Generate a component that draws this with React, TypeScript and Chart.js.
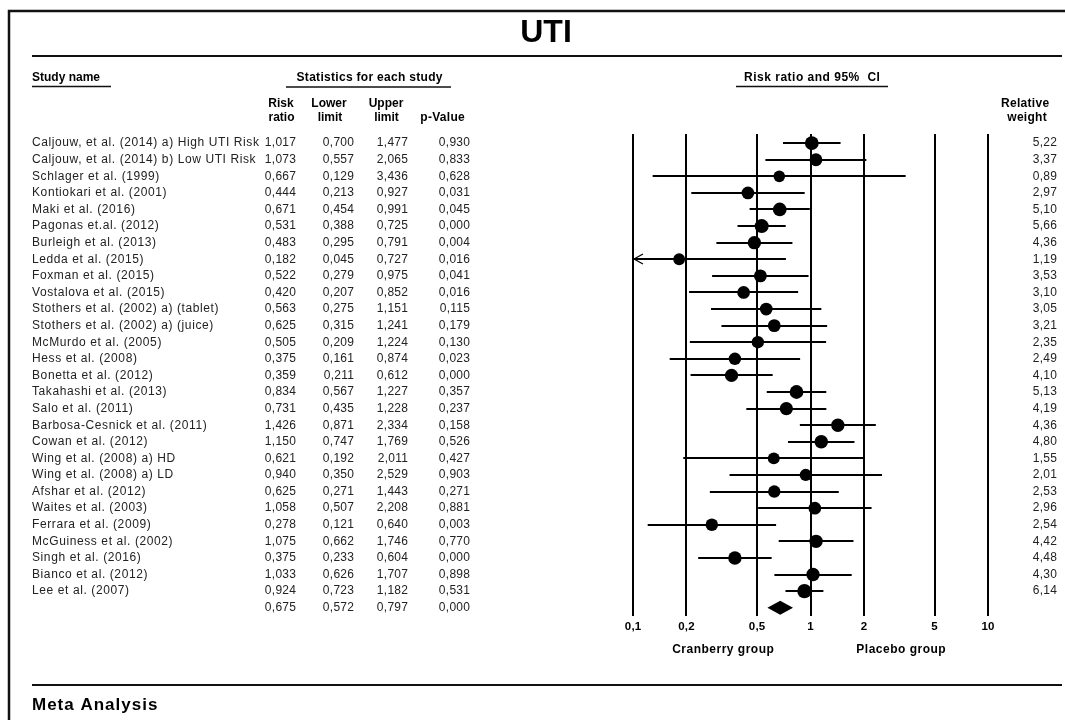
import React, { useEffect, useRef } from "react";
import { Chart, registerables } from "chart.js";

Chart.register(...registerables);

const studyNames = [
  "Caljouw, et al. (2014) a) High UTI Risk",
  "Caljouw, et al. (2014) b) Low UTI Risk",
  "Schlager et al. (1999)",
  "Kontiokari et al. (2001)",
  "Maki et al. (2016)",
  "Pagonas et.al. (2012)",
  "Burleigh et al. (2013)",
  "Ledda et al. (2015)",
  "Foxman et al. (2015)",
  "Vostalova et al. (2015)",
  "Stothers et al. (2002) a) (tablet)",
  "Stothers et al. (2002) a) (juice)",
  "McMurdo et al. (2005)",
  "Hess et al. (2008)",
  "Bonetta et al. (2012)",
  "Takahashi et al. (2013)",
  "Salo et al. (2011)",
  "Barbosa-Cesnick et al. (2011)",
  "Cowan et al. (2012)",
  "Wing et al. (2008) a) HD",
  "Wing et al. (2008) a) LD",
  "Afshar et al. (2012)",
  "Waites et al. (2003)",
  "Ferrara et al. (2009)",
  "McGuiness et al. (2002)",
  "Singh et al. (2016)",
  "Bianco et al. (2012)",
  "Lee et al. (2007)",
];

const riskRatio = [
  1.017, 1.073, 0.667, 0.444, 0.671, 0.531, 0.483, 0.182, 0.522, 0.42, 0.563, 0.625, 0.505, 0.375,
  0.359, 0.834, 0.731, 1.426, 1.15, 0.621, 0.94, 0.625, 1.058, 0.278, 1.075, 0.375, 1.033, 0.924,
];
const lowerLimit = [
  0.7, 0.557, 0.129, 0.213, 0.454, 0.388, 0.295, 0.045, 0.279, 0.207, 0.275, 0.315, 0.209, 0.161,
  0.211, 0.567, 0.435, 0.871, 0.747, 0.192, 0.35, 0.271, 0.507, 0.121, 0.662, 0.233, 0.626, 0.723,
];
const upperLimit = [
  1.477, 2.065, 3.436, 0.927, 0.991, 0.725, 0.791, 0.727, 0.975, 0.852, 1.151, 1.241, 1.224, 0.874,
  0.612, 1.227, 1.228, 2.334, 1.769, 2.011, 2.529, 1.443, 2.208, 0.64, 1.746, 0.604, 1.707, 1.182,
];
const pValue = [
  0.93, 0.833, 0.628, 0.031, 0.045, 0.0, 0.004, 0.016, 0.041, 0.016, 0.115, 0.179, 0.13, 0.023,
  0.0, 0.357, 0.237, 0.158, 0.526, 0.427, 0.903, 0.271, 0.881, 0.003, 0.77, 0.0, 0.898, 0.531,
];
const relativeWeight = [
  5.22, 3.37, 0.89, 2.97, 5.1, 5.66, 4.36, 1.19, 3.53, 3.1, 3.05, 3.21, 2.35, 2.49,
  4.1, 5.13, 4.19, 4.36, 4.8, 1.55, 2.01, 2.53, 2.96, 2.54, 4.42, 4.48, 4.3, 6.14,
];

const summaryRatio = 0.675;
const summaryLower = 0.572;
const summaryUpper = 0.797;
const summaryP = 0.0;

const axisTicks = [0.1, 0.2, 0.5, 1, 2, 5, 10];
const axisTickLabels = ["0,1", "0,2", "0,5", "1", "2", "5", "10"];

const FONT = "'Liberation Sans', Arial, sans-serif";

const fmt = (v: number, d: number) => v.toFixed(d).replace(".", ",");

function txt(
  ctx: CanvasRenderingContext2D,
  s: string,
  x: number,
  y: number,
  font: string,
  align: CanvasTextAlign = "left",
  spacing = 0,
  color = "#111"
) {
  ctx.font = font;
  ctx.textAlign = align;
  ctx.textBaseline = "middle";
  ctx.fillStyle = color;
  (ctx as any).letterSpacing = spacing + "px";
  let xx = x;
  if (align === "right") xx = x + spacing;
  if (align === "center") xx = x + spacing / 2;
  ctx.fillText(s, xx, y);
  (ctx as any).letterSpacing = "0px";
}

function hline(ctx: CanvasRenderingContext2D, x1: number, x2: number, y: number, w: number) {
  ctx.lineWidth = w;
  ctx.beginPath();
  ctx.moveTo(x1, y);
  ctx.lineTo(x2, y);
  ctx.stroke();
}

const forestPlugin = {
  id: "forest",
  beforeDatasetsDraw(chart: any) {
    const ctx: CanvasRenderingContext2D = chart.ctx;
    const xs = chart.scales.x;
    const ys = chart.scales.y;
    ctx.save();
    ctx.strokeStyle = "#000";
    ctx.lineWidth = 2;
    const top = ys.getPixelForValue(ys.min);
    const bottom = ys.getPixelForValue(ys.max);
    axisTicks.forEach((v) => {
      const px = Math.round(xs.getPixelForValue(v));
      ctx.beginPath();
      ctx.moveTo(px, top);
      ctx.lineTo(px, bottom);
      ctx.stroke();
    });
    // confidence intervals
    studyNames.forEach((_, i) => {
      const py = Math.round(ys.getPixelForValue(i));
      const lo = Math.max(lowerLimit[i], xs.min);
      const hi = Math.min(upperLimit[i], xs.max);
      const x1 = xs.getPixelForValue(lo);
      const x2 = xs.getPixelForValue(hi);
      ctx.lineWidth = 2;
      ctx.beginPath();
      ctx.moveTo(x1, py);
      ctx.lineTo(x2, py);
      ctx.stroke();
      if (lowerLimit[i] < xs.min) {
        ctx.lineWidth = 1.2;
        ctx.beginPath();
        ctx.moveTo(x1 + 10, py - 5);
        ctx.lineTo(x1 + 1, py);
        ctx.lineTo(x1 + 10, py + 5);
        ctx.stroke();
      }
    });
    // summary diamond
    const sy = ys.getPixelForValue(studyNames.length);
    ctx.fillStyle = "#000";
    ctx.beginPath();
    ctx.moveTo(xs.getPixelForValue(summaryLower), sy);
    ctx.lineTo(xs.getPixelForValue(summaryRatio), sy - 7);
    ctx.lineTo(xs.getPixelForValue(summaryUpper), sy);
    ctx.lineTo(xs.getPixelForValue(summaryRatio), sy + 7);
    ctx.closePath();
    ctx.fill();
    ctx.restore();
  },
  afterDraw(chart: any) {
    const ctx: CanvasRenderingContext2D = chart.ctx;
    const xs = chart.scales.x;
    const ys = chart.scales.y;
    ctx.save();
    ctx.strokeStyle = "#111";
    // frame lines
    ctx.lineWidth = 2.5;
    ctx.beginPath();
    ctx.moveTo(9, 720);
    ctx.lineTo(9, 11);
    ctx.lineTo(1065, 11);
    ctx.stroke();
    hline(ctx, 32, 1062, 56, 2);
    hline(ctx, 32, 1062, 685, 2);

    // title
    txt(ctx, "UTI", 546, 33, `bold 32px ${FONT}`, "center", 0, "#000");

    // section headers
    const hb = `bold 12px ${FONT}`;
    txt(ctx, "Study name", 32, 78, hb, "left", 0, "#000");
    hline(ctx, 32, 111, 86.5, 1.5);
    txt(ctx, "Statistics for each study", 369.5, 78, hb, "center", 0.3, "#000");
    hline(ctx, 286, 451, 87, 1.5);
    txt(ctx, "Risk ratio and 95%  CI", 812, 78, hb, "center", 0.5, "#000");
    hline(ctx, 736, 888, 86.5, 1.5);

    // column headers
    txt(ctx, "Risk", 281, 104, hb, "center", 0, "#000");
    txt(ctx, "ratio", 281.5, 118, hb, "center", 0, "#000");
    txt(ctx, "Lower", 329, 104, hb, "center", 0, "#000");
    txt(ctx, "limit", 330, 118, hb, "center", 0, "#000");
    txt(ctx, "Upper", 386, 104, hb, "center", 0, "#000");
    txt(ctx, "limit", 386.5, 118, hb, "center", 0, "#000");
    txt(ctx, "p-Value", 442.5, 118, hb, "center", 0.3, "#000");
    txt(ctx, "Relative", 1025, 104, hb, "center", 0.3, "#000");
    txt(ctx, "weight", 1027, 118, hb, "center", 0.3, "#000");

    // rows
    const rf = `12px ${FONT}`;
    const col = "#222";
    studyNames.forEach((name, i) => {
      const py = ys.getPixelForValue(i);
      txt(ctx, name, 32, py, rf, "left", 0.6, col);
      txt(ctx, fmt(riskRatio[i], 3), 296, py, rf, "right", 0.3, col);
      txt(ctx, fmt(lowerLimit[i], 3), 354, py, rf, "right", 0.3, col);
      txt(ctx, fmt(upperLimit[i], 3), 408, py, rf, "right", 0.3, col);
      txt(ctx, fmt(pValue[i], 3), 470, py, rf, "right", 0.3, col);
      txt(ctx, fmt(relativeWeight[i], 2), 1057, py, rf, "right", 0.3, col);
    });
    const sy = ys.getPixelForValue(studyNames.length);
    txt(ctx, fmt(summaryRatio, 3), 296, sy, rf, "right", 0.3, col);
    txt(ctx, fmt(summaryLower, 3), 354, sy, rf, "right", 0.3, col);
    txt(ctx, fmt(summaryUpper, 3), 408, sy, rf, "right", 0.3, col);
    txt(ctx, fmt(summaryP, 3), 470, sy, rf, "right", 0.3, col);

    // axis tick labels
    axisTicks.forEach((v, i) => {
      txt(ctx, axisTickLabels[i], xs.getPixelForValue(v), 627, `bold 11.5px ${FONT}`, "center", 0.2, "#000");
    });
    txt(ctx, "Cranberry group", 723, 650, hb, "center", 0.5, "#000");
    txt(ctx, "Placebo group", 901, 650, hb, "center", 0.5, "#000");

    // footer
    txt(ctx, "Meta Analysis", 32, 705, `bold 17px ${FONT}`, "left", 1, "#000");
    ctx.restore();
  },
};

export default function App() {
  const ref = useRef<HTMLCanvasElement>(null);
  useEffect(() => {
    if (!ref.current) return;
    const chart = new Chart(ref.current, {
      type: "scatter",
      data: {
        datasets: [
          {
            label: "Risk ratio",
            data: riskRatio.map((r, i) => ({ x: r, y: i })),
            pointRadius: relativeWeight.map((w) => 5.6 + 0.25 * w),
            pointHoverRadius: relativeWeight.map((w) => 5.6 + 0.25 * w),
            pointBackgroundColor: "#000",
            pointBorderWidth: 0,
            borderWidth: 0,
            clip: false,
          } as any,
        ],
      },
      options: {
        animation: false,
        responsive: false,
        events: [],
        layout: { padding: { left: 633, right: 77, top: 134, bottom: 104 } },
        plugins: { legend: { display: false }, tooltip: { enabled: false } },
        scales: {
          x: { type: "logarithmic", min: 0.1, max: 10, display: false },
          y: { type: "linear", min: -0.55, max: 28.5, reverse: true, display: false },
        },
      },
      plugins: [forestPlugin],
    });
    return () => chart.destroy();
  }, []);
  return (
    <div style={{ position: "fixed", left: 0, top: 0, width: 1065, height: 720, background: "#fff" }}>
      <canvas ref={ref} width={1065} height={720} style={{ display: "block", width: 1065, height: 720 }} />
    </div>
  );
}
